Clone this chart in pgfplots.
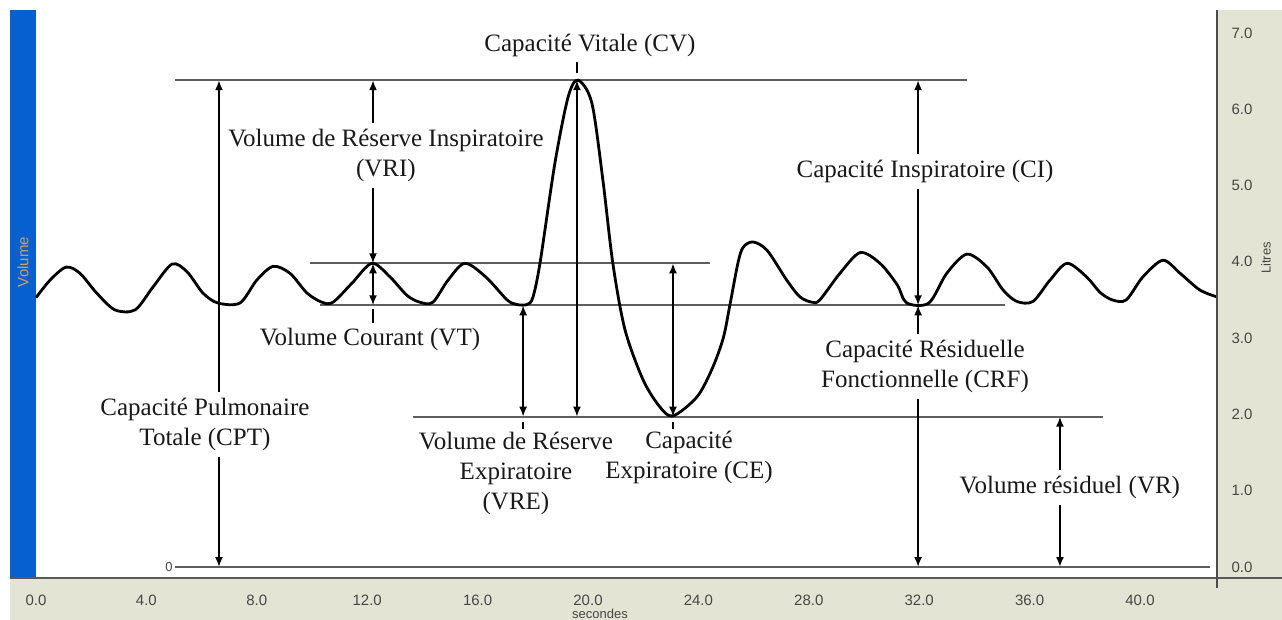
\documentclass[border=0pt]{standalone}
\usepackage{fontspec}
\setmainfont{Liberation Serif}
\newfontfamily\sansf{Liberation Sans}
\usepackage{pgfplots}
\usepackage{pgfplotstable}
\pgfplotsset{compat=1.18}
\usetikzlibrary{arrows.meta}
\definecolor{beige}{RGB}{228,228,213}
\definecolor{barblue}{RGB}{8,96,208}
\definecolor{voltan}{RGB}{205,160,100}
\definecolor{ticktxt}{RGB}{70,70,70}
\definecolor{linegray}{RGB}{95,95,95}

\pgfplotstableread{
t v
0.00 3.53
0.51 3.76
1.09 3.93
1.59 3.85
2.20 3.59
2.86 3.37
3.59 3.37
4.24 3.67
4.93 3.97
5.47 3.87
6.05 3.59
6.59 3.46
7.39 3.46
8.00 3.76
8.59 3.94
9.20 3.85
9.82 3.59
10.36 3.47
10.76 3.47
11.45 3.72
12.17 3.98
12.83 3.80
13.44 3.56
13.91 3.47
14.38 3.47
14.93 3.76
15.54 3.98
16.30 3.80
17.07 3.50
17.43 3.44
17.79 3.44
18.00 3.53
18.26 3.98
18.80 5.29
19.28 6.16
19.64 6.38
20.14 6.08
20.54 5.07
20.90 3.98
21.34 3.11
22.00 2.45
22.60 2.10
23.08 1.98
23.95 2.23
24.50 2.60
24.90 3.00
25.14 3.43
25.43 3.98
25.62 4.19
25.98 4.26
26.49 4.15
27.20 3.76
27.68 3.54
28.12 3.47
28.40 3.50
29.13 3.85
29.86 4.12
30.58 3.98
31.20 3.70
31.55 3.46
32.35 3.46
33.00 3.85
33.73 4.10
34.46 3.93
35.04 3.63
35.54 3.48
36.12 3.48
36.74 3.76
37.36 3.98
38.07 3.80
38.55 3.60
39.00 3.50
39.50 3.50
40.10 3.80
40.83 4.02
41.45 3.85
42.17 3.63
42.79 3.54
}\curvedata

\begin{document}
\begin{tikzpicture}[
  lbl/.style={inner xsep=1pt, inner ysep=3pt, align=center, text=black!90, font=\fontsize{12.5}{15}\selectfont},
  flbl/.style={lbl, fill=white},
  dbl/.style={black, line width=0.9pt, {Latex[length=5pt,width=4pt]}-{Latex[length=5pt,width=4pt]}},
  hl/.style={linegray, line width=0.9pt},
  small/.style={font=\sansf\fontsize{7.5}{8}\selectfont, text=ticktxt}
]
\clip (0,0) rectangle (641pt,310pt);
\fill[white] (0,0) rectangle (641pt,310pt);
\fill[barblue] (5pt,21pt) rectangle (18pt,305pt);
\fill[beige] (5pt,0) rectangle (641pt,21pt);
\fill[beige] (608.5pt,0) rectangle (641pt,305pt);
\node[rotate=90, text=voltan, font=\sansf\fontsize{7.5}{8}\selectfont] at (11.5pt,179pt) {Volume};
\node[rotate=90, font=\sansf\fontsize{6.5}{7}\selectfont, text=ticktxt] at (633pt,181pt) {Litres};
\node[font=\sansf\fontsize{6.5}{7}\selectfont, text=ticktxt, inner sep=0.5pt] at (300pt,3.2pt) {secondes};

\begin{axis}[
  at={(18pt,21pt)}, anchor=south west,
  scale only axis, width=590.5pt, height=284pt,
  xmin=0, xmax=42.79, ymin=-0.144, ymax=7.30,
  axis line style={draw=none},
  major tick length=0pt,
  xtick={0,4,...,40}, ytick={0,1,...,7},
  yticklabel pos=right,
  xticklabel={\pgfmathprintnumber[fixed,fixed zerofill,precision=1,assume math mode=true]{\tick}},
  yticklabel={\pgfmathprintnumber[fixed,fixed zerofill,precision=1,assume math mode=true]{\tick}},
  xticklabel style={font=\sansf\fontsize{7.5}{8}\selectfont, text=ticktxt, anchor=center, yshift=-11pt},
  yticklabel style={font=\sansf\fontsize{7.5}{8}\selectfont, text=ticktxt, anchor=center, xshift=12.5pt},
  clip=false,
]
% horizontal reference lines
\draw[hl] (axis cs:5.04,6.38) -- (axis cs:33.73,6.38);
\draw[hl] (axis cs:9.93,3.98) -- (axis cs:24.42,3.98);
\draw[hl] (axis cs:10.29,3.43) -- (axis cs:35.11,3.43);
\draw[hl] (axis cs:13.66,1.97) -- (axis cs:38.66,1.97);
\draw[hl] (axis cs:5.04,0) -- (axis cs:42.54,0);
\node[font=\sansf\fontsize{6.5}{7}\selectfont, text=ticktxt, anchor=east, inner sep=1pt] at (axis cs:5.04,0) {0};
% arrows
\draw[dbl] (axis cs:6.63,6.38) -- (axis cs:6.63,0);
\draw[dbl] (axis cs:12.21,6.38) -- (axis cs:12.21,3.98);
\draw[dbl] (axis cs:12.21,3.98) -- (axis cs:12.21,3.43);
\draw[black, line width=0.9pt] (axis cs:12.21,3.38) -- (axis cs:12.21,3.2);
\draw[dbl] (axis cs:17.65,3.43) -- (axis cs:17.65,1.97);
\draw[black, line width=0.9pt] (axis cs:17.65,1.9) -- (axis cs:17.65,1.81);
\draw[dbl] (axis cs:19.6,6.38) -- (axis cs:19.6,1.97);
\draw[black, line width=0.9pt] (axis cs:19.6,6.62) -- (axis cs:19.6,6.47);
\draw[dbl] (axis cs:23.08,3.98) -- (axis cs:23.08,1.97);
\draw[black, line width=0.9pt] (axis cs:23.08,1.9) -- (axis cs:23.08,1.81);
\draw[dbl] (axis cs:31.96,6.38) -- (axis cs:31.96,3.43);
\draw[dbl] (axis cs:31.96,3.43) -- (axis cs:31.96,0);
\draw[dbl] (axis cs:37.1,1.97) -- (axis cs:37.1,0);
% labels
\node[lbl] at (axis cs:20.07,6.83) {Capacité Vitale (CV)};
\node[flbl] at (axis cs:12.68,5.39) {Volume de Réserve Inspiratoire\\(VRI)};
\node[lbl] at (axis cs:12.1,2.98) {Volume Courant (VT)};
\node[flbl] at (axis cs:6.12,1.87) {Capacité Pulmonaire\\Totale (CPT)};
\node[lbl] at (axis cs:17.39,1.23) {Volume de Réserve\\Expiratoire\\(VRE)};
\node[lbl] at (axis cs:23.66,1.43) {Capacité\\Expiratoire (CE)};
\node[flbl] at (axis cs:32.21,5.18) {Capacité Inspiratoire (CI)};
\node[flbl] at (axis cs:32.21,2.63) {Capacité Résiduelle\\Fonctionnelle (CRF)};
\node[flbl] at (axis cs:37.46,1.04) {Volume résiduel (VR)};
% spirogram
\addplot[black, line width=1.4pt, smooth, tension=0.5] table[x=t,y=v] {\curvedata};
\end{axis}
\draw[gray!70!black, line width=0.8pt] (5pt,21pt) -- (641pt,21pt);
\draw[black!70, line width=1pt] (608.5pt,16pt) -- (608.5pt,305pt);
\end{tikzpicture}
\end{document}
